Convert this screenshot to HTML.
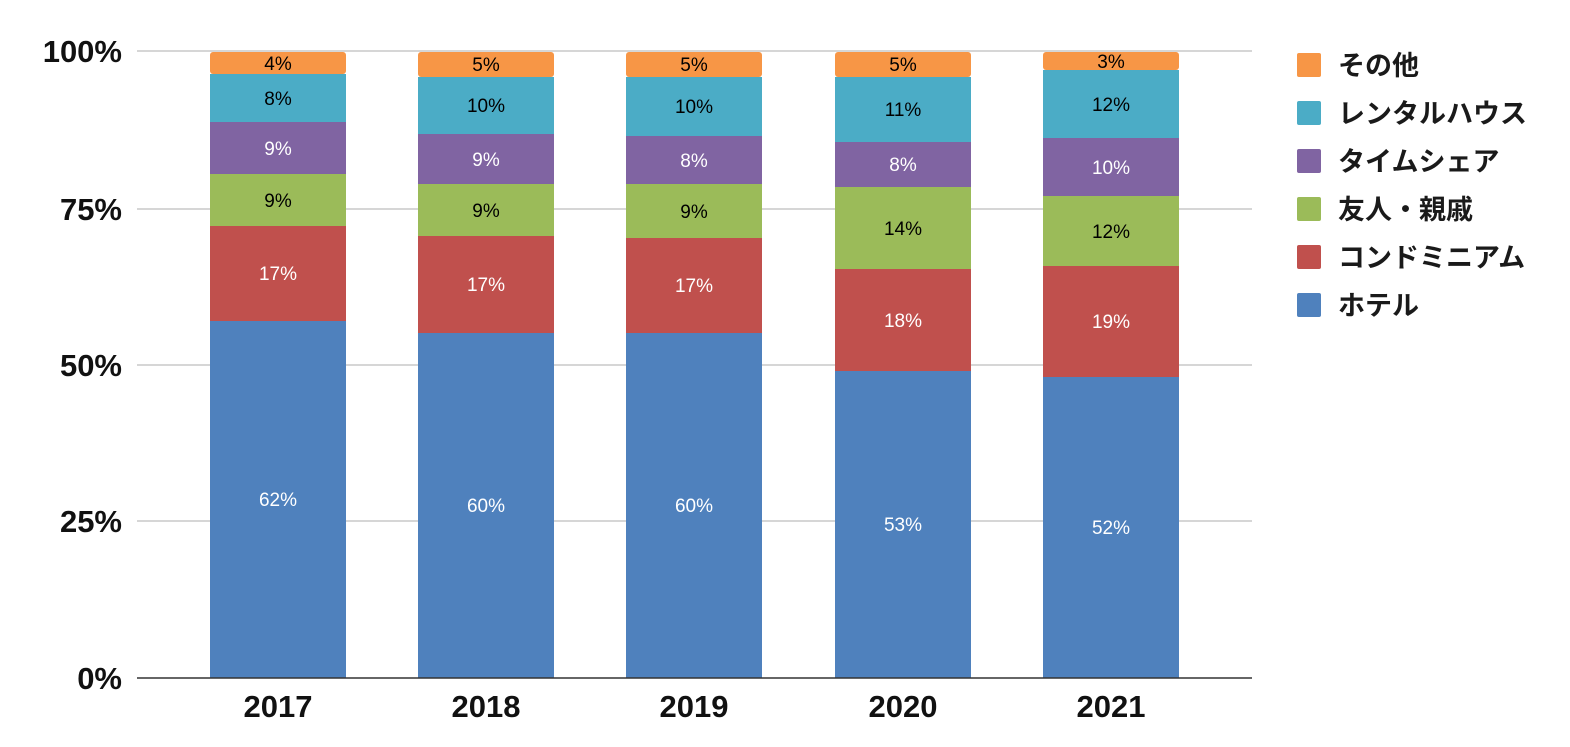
<!DOCTYPE html>
<html><head><meta charset="utf-8"><style>
html,body{margin:0;padding:0;background:#fff;}
svg text{font-family:"Liberation Sans","Noto Sans CJK JP",sans-serif;}
</style></head><body>
<svg width="1570" height="742" viewBox="0 0 1570 742" xmlns="http://www.w3.org/2000/svg">
<g stroke="#c8c8c8" stroke-width="1.5">
<line x1="137" y1="51" x2="1252" y2="51"/>
<line x1="137" y1="209" x2="1252" y2="209"/>
<line x1="137" y1="365" x2="1252" y2="365"/>
<line x1="137" y1="521" x2="1252" y2="521"/>
</g>
<g font-size="31" font-weight="bold" fill="#111" text-anchor="end">
<text x="122" y="62">100%</text>
<text x="122" y="220">75%</text>
<text x="122" y="376">50%</text>
<text x="122" y="532">25%</text>
<text x="122" y="689">0%</text>
</g>

<!-- 2017 -->
<rect x="210" y="321" width="136" height="357" fill="#4f81bd"/>
<rect x="210" y="226" width="136" height="95" fill="#c0504d"/>
<rect x="210" y="174" width="136" height="52" fill="#9bbb59"/>
<rect x="210" y="122" width="136" height="52" fill="#8064a2"/>
<rect x="210" y="74" width="136" height="48" fill="#4bacc6"/>
<rect x="210" y="52" width="136" height="22" rx="3" fill="#f79646"/>
<!-- 2018 -->
<rect x="418" y="333" width="136" height="345" fill="#4f81bd"/>
<rect x="418" y="236" width="136" height="97" fill="#c0504d"/>
<rect x="418" y="184" width="136" height="52" fill="#9bbb59"/>
<rect x="418" y="134" width="136" height="50" fill="#8064a2"/>
<rect x="418" y="77" width="136" height="57" fill="#4bacc6"/>
<rect x="418" y="52" width="136" height="25" rx="3" fill="#f79646"/>
<!-- 2019 -->
<rect x="626" y="333" width="136" height="345" fill="#4f81bd"/>
<rect x="626" y="238" width="136" height="95" fill="#c0504d"/>
<rect x="626" y="184" width="136" height="54" fill="#9bbb59"/>
<rect x="626" y="136" width="136" height="48" fill="#8064a2"/>
<rect x="626" y="77" width="136" height="59" fill="#4bacc6"/>
<rect x="626" y="52" width="136" height="25" rx="3" fill="#f79646"/>
<!-- 2020 -->
<rect x="835" y="371" width="136" height="307" fill="#4f81bd"/>
<rect x="835" y="269" width="136" height="102" fill="#c0504d"/>
<rect x="835" y="187" width="136" height="82" fill="#9bbb59"/>
<rect x="835" y="142" width="136" height="45" fill="#8064a2"/>
<rect x="835" y="77" width="136" height="65" fill="#4bacc6"/>
<rect x="835" y="52" width="136" height="25" rx="3" fill="#f79646"/>
<!-- 2021 -->
<rect x="1043" y="377" width="136" height="301" fill="#4f81bd"/>
<rect x="1043" y="266" width="136" height="111" fill="#c0504d"/>
<rect x="1043" y="196" width="136" height="70" fill="#9bbb59"/>
<rect x="1043" y="138" width="136" height="58" fill="#8064a2"/>
<rect x="1043" y="70" width="136" height="68" fill="#4bacc6"/>
<rect x="1043" y="52" width="136" height="18" rx="3" fill="#f79646"/>

<g font-size="19" text-anchor="middle">
<text x="278" y="506" fill="#fff">62%</text>
<text x="278" y="280" fill="#fff">17%</text>
<text x="278" y="207" fill="#000">9%</text>
<text x="278" y="155" fill="#fff">9%</text>
<text x="278" y="105" fill="#000">8%</text>
<text x="278" y="70" fill="#000">4%</text>

<text x="486" y="512" fill="#fff">60%</text>
<text x="486" y="291" fill="#fff">17%</text>
<text x="486" y="217" fill="#000">9%</text>
<text x="486" y="166" fill="#fff">9%</text>
<text x="486" y="112" fill="#000">10%</text>
<text x="486" y="71" fill="#000">5%</text>

<text x="694" y="512" fill="#fff">60%</text>
<text x="694" y="292" fill="#fff">17%</text>
<text x="694" y="218" fill="#000">9%</text>
<text x="694" y="167" fill="#fff">8%</text>
<text x="694" y="113" fill="#000">10%</text>
<text x="694" y="71" fill="#000">5%</text>

<text x="903" y="531" fill="#fff">53%</text>
<text x="903" y="327" fill="#fff">18%</text>
<text x="903" y="235" fill="#000">14%</text>
<text x="903" y="171" fill="#fff">8%</text>
<text x="903" y="116" fill="#000">11%</text>
<text x="903" y="71" fill="#000">5%</text>

<text x="1111" y="534" fill="#fff">52%</text>
<text x="1111" y="328" fill="#fff">19%</text>
<text x="1111" y="238" fill="#000">12%</text>
<text x="1111" y="174" fill="#fff">10%</text>
<text x="1111" y="111" fill="#000">12%</text>
<text x="1111" y="68" fill="#000">3%</text>
</g>

<line x1="137" y1="678" x2="1252" y2="678" stroke="#333" stroke-width="1.5"/>
<g font-size="31" font-weight="bold" fill="#111" text-anchor="middle">
<text x="278" y="717">2017</text>
<text x="486" y="717">2018</text>
<text x="694" y="717">2019</text>
<text x="903" y="717">2020</text>
<text x="1111" y="717">2021</text>
</g>
<g font-size="27" font-weight="bold" fill="#1a1a1a">
<rect x="1297" y="53" width="24" height="24" rx="2" fill="#f79646"/><text x="1338" y="75">その他</text>
<rect x="1297" y="101" width="24" height="24" rx="2" fill="#4bacc6"/><text x="1338" y="123">レンタルハウス</text>
<rect x="1297" y="149" width="24" height="24" rx="2" fill="#8064a2"/><text x="1338" y="171">タイムシェア</text>
<rect x="1297" y="197" width="24" height="24" rx="2" fill="#9bbb59"/><text x="1338" y="219">友人・親戚</text>
<rect x="1297" y="245" width="24" height="24" rx="2" fill="#c0504d"/><text x="1338" y="267">コンドミニアム</text>
<rect x="1297" y="293" width="24" height="24" rx="2" fill="#4f81bd"/><text x="1338" y="315">ホテル</text>
</g>
</svg>
</body></html>
